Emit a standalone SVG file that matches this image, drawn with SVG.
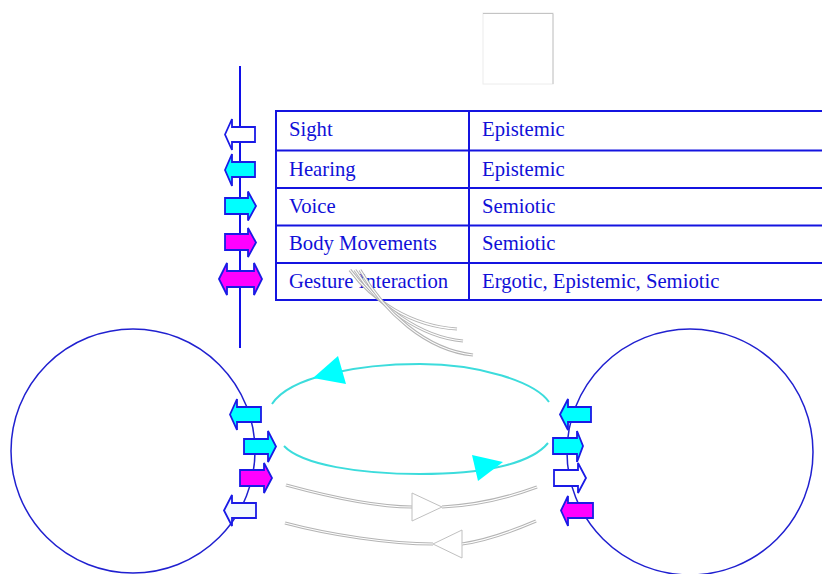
<svg xmlns="http://www.w3.org/2000/svg" width="822" height="574" viewBox="0 0 822 574">
<style>
.t{font-family:"Liberation Serif","Times New Roman",serif;font-size:20.7px;fill:#1010d8}
.tl{stroke:#1414e0;stroke-width:2;fill:none}
.ar{stroke:#1a1ae6;stroke-width:1.8;stroke-linejoin:miter}
.cy{fill:#00ffff}
.mg{fill:#ff00ff}
.wh{fill:#ffffff}
.wb{fill:#f2f8ff}
.circ{fill:none;stroke:#2020d0;stroke-width:1.5}
.cyl{fill:none;stroke:#3cdcdc;stroke-width:2}
.cyh{fill:#00ffff;stroke:none}
.g1{fill:none;stroke:#b4b4b4;stroke-width:3.2}
.g2{fill:none;stroke:#ffffff;stroke-width:1.2}
.gh{fill:#ffffff;stroke:#c0c0c0;stroke-width:1}
</style>
<rect width="822" height="574" fill="#ffffff"/>

<g id="frame">
<rect x="483" y="13" width="70" height="71" fill="none" stroke="#ececec" stroke-width="1"/>
<path d="M483,13.5 H553 V84" fill="none" stroke="#c4c4c4" stroke-width="1"/>
</g>

<g id="axis">
<line x1="240" y1="66" x2="240" y2="348" stroke="#1010e8" stroke-width="2"/>
</g>

<g id="legend-arrows">
<path class="ar wh" d="M225,134.5 L232,119 L232,127 L255,127 L255,142 L232,142 L232,150 Z"/>
<path class="ar cy" d="M225,170 L232,154 L232,162 L255,162 L255,177 L232,177 L232,186 Z"/>
<path class="ar cy" d="M225,198 L248,198 L248,191.5 L256,206 L248,220.5 L248,214 L225,214 Z"/>
<path class="ar mg" d="M225,234 L248,234 L248,228 L256,242.5 L248,257 L248,250 L225,250 Z"/>
<path class="ar mg" d="M219,279 L227,263 L227,271 L254,271 L254,263 L262,279 L254,295 L254,287 L227,287 L227,295 Z"/>
</g>

<g id="table">
<line class="tl" x1="276" y1="111" x2="822" y2="111"/>
<line class="tl" x1="276" y1="150.5" x2="822" y2="150.5"/>
<line class="tl" x1="276" y1="188" x2="822" y2="188"/>
<line class="tl" x1="276" y1="225.5" x2="822" y2="225.5"/>
<line class="tl" x1="276" y1="263" x2="822" y2="263"/>
<line class="tl" x1="276" y1="300" x2="822" y2="300"/>
<line class="tl" x1="276" y1="110" x2="276" y2="301"/>
<line class="tl" x1="469" y1="111" x2="469" y2="300"/>
<text class="t" x="289" y="136">Sight</text>
<text class="t" x="482" y="136">Epistemic</text>
<text class="t" x="289" y="176">Hearing</text>
<text class="t" x="482" y="176">Epistemic</text>
<text class="t" x="289" y="213">Voice</text>
<text class="t" x="482" y="213">Semiotic</text>
<text class="t" x="289" y="250">Body Movements</text>
<text class="t" x="482" y="250">Semiotic</text>
<text class="t" x="289" y="288">Gesture Interaction</text>
<text class="t" x="482" y="288">Ergotic, Epistemic, Semiotic</text>
</g>

<g id="connectors">
<path class="g1" d="M350,270 C 372,300 410,326 457,329"/>
<path class="g2" d="M350,270 C 372,300 410,326 457,329"/>
<path class="g1" d="M355,270 C 378,306 420,337 463,341"/>
<path class="g2" d="M355,270 C 378,306 420,337 463,341"/>
<path class="g1" d="M360,270 C 384,312 426,350 473,355"/>
<path class="g2" d="M360,270 C 384,312 426,350 473,355"/>

<path class="cyl" d="M272,404 C 290,376 360,364 420,364 C 480,364 535,382 549,402"/>
<path class="cyh" d="M313,378 L338,356 L346,384 Z"/>
<path class="cyl" d="M284,446 C 302,465 360,474 420,474 C 480,474 530,465 548,443"/>
<path class="cyh" d="M472,455 L478,481 L503,462 Z"/>

<path class="g1" d="M286,485 C 330,497 380,507 412,507"/>
<path class="g2" d="M286,485 C 330,497 380,507 412,507"/>
<path class="gh" d="M412,493 L412,521 L442,507 Z"/>
<path class="g1" d="M442,507 C 480,505 510,497 537,487"/>
<path class="g2" d="M442,507 C 480,505 510,497 537,487"/>

<path class="g1" d="M285,523 C 330,535 390,544 433,544"/>
<path class="g2" d="M285,523 C 330,535 390,544 433,544"/>
<path class="gh" d="M433,544 L462,530 L462,558 Z"/>
<path class="g1" d="M462,544 C 490,540 515,530 536,521"/>
<path class="g2" d="M462,544 C 490,540 515,530 536,521"/>
</g>

<g id="left-agent">
<circle class="circ" cx="133" cy="451" r="122"/>
<path class="ar cy" d="M230,414.5 L237,399 L237,407 L261,407 L261,422 L237,422 L237,430 Z"/>
<path class="ar cy" d="M244,439 L268,439 L268,431 L276,446.5 L268,462 L268,454 L244,454 Z"/>
<path class="ar mg" d="M240,470 L264,470 L264,463 L272,478 L264,493 L264,486 L240,486 Z"/>
<path class="ar wb" d="M224,510.5 L232,495 L232,503 L256,503 L256,518 L232,518 L232,526 Z"/>
</g>

<g id="right-agent">
<circle class="circ" cx="690" cy="452" r="123"/>
<path class="ar cy" d="M560,414.5 L568,399 L568,407 L591,407 L591,422 L568,422 L568,430 Z"/>
<path class="ar cy" d="M553,438 L577,438 L577,431 L583,446 L577,462 L577,454 L553,454 Z"/>
<path class="ar wh" d="M554,470 L578,470 L578,463 L586,478 L578,493 L578,486 L554,486 Z"/>
<path class="ar mg" d="M561,510.5 L568,496 L568,503 L593,503 L593,518 L568,518 L568,526 Z"/>
</g>
</svg>
